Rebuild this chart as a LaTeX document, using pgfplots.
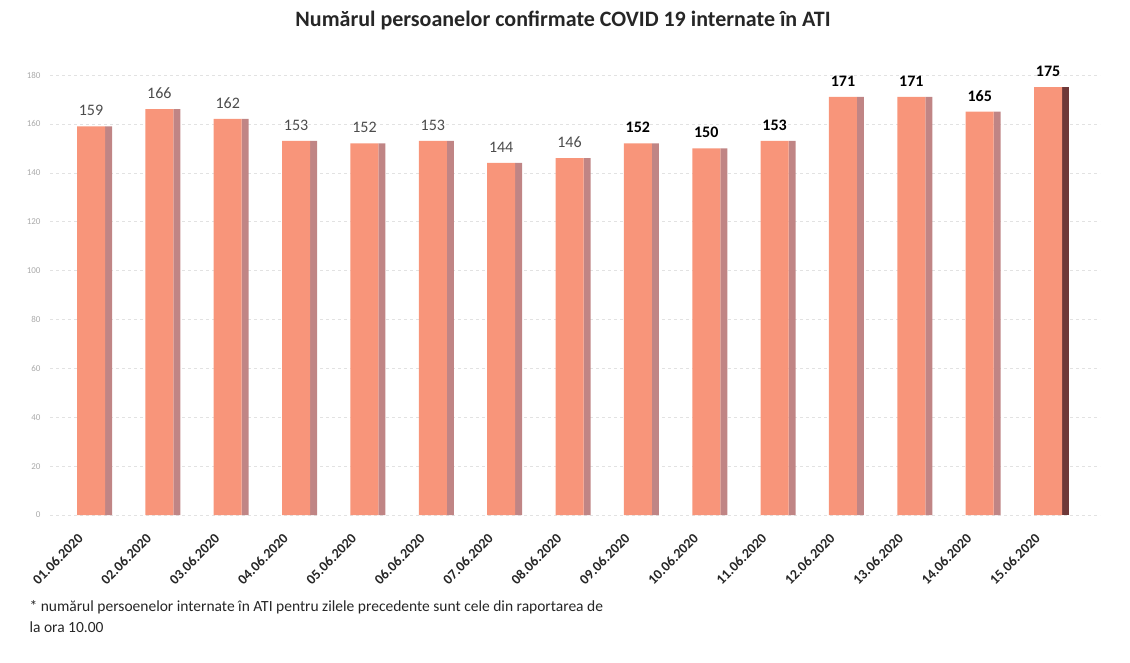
\documentclass[border=0pt]{standalone}
\usepackage{pgfplots}
\pgfplotsset{compat=1.18}
\usepackage{fontspec}
\setmainfont{Carlito}
\definecolor{barfront}{HTML}{F8957A}
\definecolor{barside}{HTML}{C08585}
\definecolor{barsidedark}{HTML}{6E3838}
\definecolor{gridc}{HTML}{E2E2E2}
\definecolor{ytick}{HTML}{AAAAAA}
\begin{document}
\begin{tikzpicture}
\path[use as bounding box] (0pt,0pt) rectangle (1130pt,662pt);
\node[font=\fontsize{22}{26}\selectfont\bfseries, text=black!85] at (563pt,642pt) {Numărul persoanelor confirmate COVID 19 internate în ATI};
\begin{axis}[
  at={(50pt,147pt)}, anchor=south west,
  scale only axis, width=1050pt, height=440pt,
  xmin=-0.6, xmax=14.76, ymin=0, ymax=180,
  ytick={0,20,...,180},
  xtick={0,...,14},
  xticklabels={01.06.2020,02.06.2020,03.06.2020,04.06.2020,05.06.2020,06.06.2020,07.06.2020,08.06.2020,09.06.2020,10.06.2020,11.06.2020,12.06.2020,13.06.2020,14.06.2020,15.06.2020},
  x tick label style={xshift=-14pt, yshift=-13pt, rotate=45, anchor=north east, font=\fontsize{14}{15}\selectfont\bfseries, text=black!85},
  y tick label style={xshift=-6pt, font=\fontsize{9}{10}\selectfont, text=ytick},
  /pgf/number format/assume math mode=true,
  axis line style={draw=none},
  major tick length=0pt,
  ymajorgrids, grid style={gridc, dashed},
  ybar, bar width=28pt,
  nodes near coords,
  every node near coord/.append style={font=\fontsize{16}{17}\selectfont, text=black!70, yshift=7pt},
  clip=false,
]
\addplot[ybar, bar shift=17.5pt, bar width=7pt, fill=barside, draw=none, nodes near coords=\empty] coordinates {
(0,159) (1,166) (2,162) (3,153) (4,152) (5,153) (6,144) (7,146) (8,152) (9,150) (10,153) (11,171) (12,171) (13,165)};
\addplot[ybar, bar shift=17.5pt, bar width=7pt, fill=barsidedark, draw=none, nodes near coords=\empty] coordinates {
(14,175)};
\addplot[ybar, bar shift=0pt, fill=barfront, draw=none] coordinates {
(0,159) (1,166) (2,162) (3,153) (4,152) (5,153) (6,144) (7,146)};
\addplot[ybar, bar shift=0pt, fill=barfront, draw=none, every node near coord/.append style={font=\fontsize{16}{17}\selectfont\bfseries, text=black}] coordinates {
(8,152) (9,150) (10,153) (11,171) (12,171) (13,165) (14,175)};
\end{axis}
\node[anchor=north west, align=left, font=\fontsize{15.5}{21}\selectfont, text=black!85] at (26pt,65pt) {* numărul persoenelor internate în ATI pentru zilele precedente sunt cele din raportarea de\\la ora 10.00};
\end{tikzpicture}
\end{document}
